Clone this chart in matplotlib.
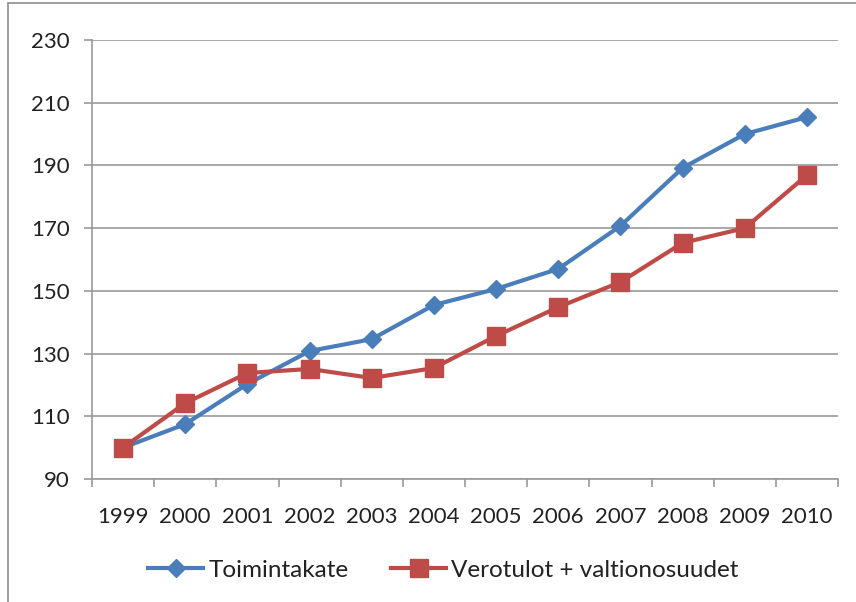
import matplotlib
matplotlib.use("Agg")
import matplotlib.pyplot as plt
from matplotlib.patches import Rectangle
from matplotlib.ticker import FixedLocator

years = ["1999", "2000", "2001", "2002", "2003", "2004", "2005", "2006", "2007", "2008", "2009", "2010"]
toimintakate = [100, 107.5, 120.3, 130.8, 134.6, 145.5, 150.6, 157.0, 170.7, 189.2, 200.0, 205.4]
verotulot = [100, 114.2, 123.8, 125.1, 122.2, 125.4, 135.6, 144.8, 152.8, 165.3, 170.0, 186.9]
series_names = ["Toimintakate", "Verotulot + valtionosuudet"]
yticks = [90, 110, 130, 150, 170, 190, 210, 230]

plt.rcParams['font.family'] = ['Lato', 'DejaVu Sans']

W, H = 856, 602
fig = plt.figure(figsize=(W / 100, H / 100), dpi=100)
fig.patch.set_facecolor("white")
# outer chart border (partially cropped in reference)
fig.patches.append(Rectangle((8 / W, -0.01), 1.1, (H - 3) / H + 0.01, transform=fig.transFigure,
                             fill=False, edgecolor="#8c8c8c", linewidth=1.2))

ax = fig.add_axes([92 / W, (H - 479) / H, (838 - 92) / W, (479 - 40) / H])
x = list(range(len(years)))
ax.plot(x, toimintakate, color="#4A7EBB", lw=3, marker="D", ms=9, label=series_names[0], zorder=3)
ax.plot(x, verotulot, color="#BE4B48", lw=3, marker="s", ms=13, label=series_names[1], zorder=3)

ax.set_xlim(-0.5, len(years) - 0.5)
ax.set_ylim(90, 230)
ax.set_yticks(yticks)
ax.yaxis.grid(True, color="#9a9a9a", lw=1.2)
ax.set_axisbelow(True)
ax.set_xticks(x)
ax.set_xticklabels(years)
ax.xaxis.set_minor_locator(FixedLocator([i - 0.5 for i in range(len(years) + 1)]))
ax.tick_params(axis="x", which="major", length=0, pad=20, labelsize=16, colors="#222222")
ax.tick_params(axis="x", which="minor", length=6, width=1.2, color="#9a9a9a", direction="out")
ax.tick_params(axis="y", length=6, width=1.2, color="#9a9a9a", labelsize=16, pad=10, labelcolor="#222222")
for s in ["top", "right"]:
    ax.spines[s].set_visible(False)
ax.spines["left"].set_color("#9a9a9a")
ax.spines["bottom"].set_color("#9a9a9a")
ax.spines["left"].set_linewidth(1.2)
ax.spines["bottom"].set_linewidth(1.2)

leg = fig.legend(loc="center", bbox_to_anchor=(0.518, (H - 570) / H), ncol=2, frameon=False,
                 fontsize=17.5, handlelength=2.26, columnspacing=1.77, handletextpad=0.2)
for t in leg.get_texts():
    t.set_color("#222222")

fig.savefig("out.png", dpi=100)
